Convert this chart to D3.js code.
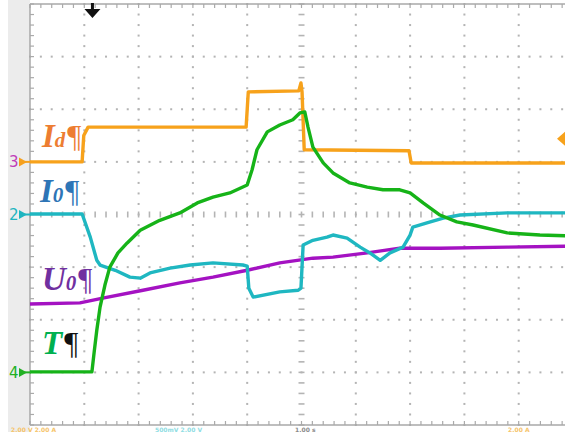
<!DOCTYPE html>
<html><head><meta charset="utf-8">
<script src="https://cdn.jsdelivr.net/npm/d3@7"></script>
<style>
html,body{margin:0;padding:0;background:#fff;overflow:hidden}
svg{display:block}
</style></head>
<body>
<svg id="c" width="565" height="432"></svg>
<script>
// Oscilloscope traces: [time (div), value (div from centre)]
const traceId = [[0,1.0],[0.96,1.0],[0.99,1.5],[1.07,1.66],[3.98,1.66],[4.02,2.33],[4.95,2.35],[4.99,2.5],[5.01,2.33],[5.05,1.23],[6.98,1.21],[7.02,0.98],[10,0.98]];
const traceI0 = [[0,0.01],[0.96,0.01],[1.11,-0.43],[1.23,-0.87],[1.29,-0.96],[1.57,-1.06],[1.84,-1.19],[2.03,-1.21],[2.21,-1.11],[2.58,-1.02],[2.95,-0.96],[3.37,-0.92],[3.92,-0.96],[4.0,-0.98],[4.03,-1.40],[4.11,-1.57],[4.60,-1.47],[4.94,-1.44],[4.99,-1.40],[5.03,-0.58],[5.21,-0.49],[5.47,-0.43],[5.58,-0.39],[5.84,-0.45],[6.08,-0.62],[6.26,-0.73],[6.45,-0.87],[6.63,-0.73],[6.87,-0.62],[7.0,-0.39],[7.05,-0.24],[7.31,-0.16],[7.61,-0.07],[7.92,-0.01],[8.79,0.03],[10,0.03]];
const traceU0 = [[0,-1.70],[0.92,-1.68],[1.34,-1.59],[2.08,-1.44],[2.76,-1.30],[3.37,-1.19],[4.0,-1.06],[4.60,-0.92],[5.21,-0.83],[5.58,-0.81],[6.21,-0.73],[6.81,-0.64],[7.55,-0.64],[8.79,-0.62],[10,-0.60]];
const traceT = [[0,-2.99],[1.14,-2.99],[1.18,-2.63],[1.23,-2.20],[1.29,-1.76],[1.38,-1.34],[1.47,-1.0],[1.62,-0.73],[1.79,-0.54],[2.03,-0.30],[2.39,-0.11],[2.76,0.03],[3.08,0.22],[3.37,0.33],[3.68,0.41],[4.0,0.56],[4.09,0.85],[4.18,1.23],[4.37,1.57],[4.60,1.70],[4.84,1.80],[4.97,1.93],[5.06,1.95],[5.12,1.66],[5.21,1.28],[5.40,0.98],[5.58,0.79],[5.89,0.60],[6.21,0.52],[6.50,0.47],[6.81,0.47],[7.0,0.41],[7.24,0.22],[7.55,-0.01],[7.86,-0.14],[8.16,-0.20],[8.79,-0.35],[9.39,-0.39],[10,-0.41]];
const channelMarks = [["3",1.0,"#c03cb8","#f5a01e"],["2",0.0,"#1fb5c0","#1fb5c0"],["4",-3.0,"#22b024","#22b024"]];
const bottomReadouts = [["2.00 V  2.00 A",11,"#f6c46a"],["500mV  2.00 V",155,"#8fdde3"],["1.00 s",295,"#8a8a8a"],["2.00 A",508,"#f6c46a"]];

const svg = d3.select("#c");
const x = d3.scaleLinear().domain([0,10]).range([30,573]);
const y = d3.scaleLinear().domain([-4,4]).range([425,4]);

// left gray strip
svg.append("rect").attr("x",8).attr("y",0).attr("width",22).attr("height",432).attr("fill","#ececec");
svg.append("rect").attr("x",30).attr("y",4).attr("width",545).attr("height",421).attr("fill","#fff");

const grid = svg.append("g");
const dotCol = "#b4b4b4";
const majorX = d3.range(1,10), majorY = d3.range(-3,4);
const minorX = d3.range(0,10.001,0.2), minorY = d3.range(-4,4.001,0.2);
majorY.filter(v=>v!==0).forEach(v=>{
  grid.selectAll(null).data(minorX).enter().append("rect")
    .attr("x",d=>x(d)-1).attr("y",y(v)-1).attr("width",2).attr("height",2).attr("fill",dotCol);
});
majorX.filter(t=>t!==5).forEach(t=>{
  grid.selectAll(null).data(minorY).enter().append("rect")
    .attr("x",x(t)-1).attr("y",d=>y(d)-1).attr("width",2).attr("height",2).attr("fill",dotCol);
});
grid.selectAll(null).data(minorX).enter().append("line")
  .attr("x1",d=>x(d)).attr("x2",d=>x(d)).attr("y1",y(0)-3).attr("y2",y(0)+3)
  .attr("stroke",dotCol).attr("stroke-width",1.6);
grid.selectAll(null).data(minorY).enter().append("line")
  .attr("x1",x(5)-3).attr("x2",x(5)+3).attr("y1",d=>y(d)).attr("y2",d=>y(d))
  .attr("stroke",dotCol).attr("stroke-width",1.6);
grid.selectAll(null).data(minorX).enter().append("line")
  .attr("x1",d=>x(d)).attr("x2",d=>x(d)).attr("y1",y(4)).attr("y2",y(4)+4)
  .attr("stroke","#aaa").attr("stroke-width",1.2);
grid.selectAll(null).data(minorX).enter().append("line")
  .attr("x1",d=>x(d)).attr("x2",d=>x(d)).attr("y1",y(-4)).attr("y2",y(-4)-4)
  .attr("stroke","#aaa").attr("stroke-width",1.2);
grid.selectAll(null).data(minorY).enter().append("line")
  .attr("x1",x(0)).attr("x2",x(0)+4).attr("y1",d=>y(d)).attr("y2",d=>y(d))
  .attr("stroke","#aaa").attr("stroke-width",1.2);
grid.append("line").attr("x1",x(0)).attr("x2",x(0)).attr("y1",y(4)).attr("y2",y(-4)).attr("stroke","#a8a8a8").attr("stroke-width",1.5);
grid.append("line").attr("x1",x(0)).attr("x2",565).attr("y1",y(4)).attr("y2",y(4)).attr("stroke","#a8a8a8").attr("stroke-width",1.5);
grid.append("line").attr("x1",x(0)).attr("x2",565).attr("y1",y(-4)).attr("y2",y(-4)).attr("stroke","#a8a8a8").attr("stroke-width",1.5);

// traces
const line = d3.line().x(d=>x(d[0])).y(d=>y(d[1]));
const traces = [[traceU0,"#a412c2"],[traceI0,"#1fb7c1"],[traceId,"#f7a21b"],[traceT,"#16b318"]];
svg.selectAll(null).data(traces).enter().append("path")
  .attr("d",d=>line(d[0])).attr("fill","none").attr("stroke",d=>d[1])
  .attr("stroke-width",3.4).attr("stroke-linejoin","round");

// channel markers on left
channelMarks.forEach(([lab,v,c1,c2])=>{
  svg.append("text").attr("x",9).attr("y",y(v)+5.5).attr("font-family","DejaVu Sans")
    .attr("font-size",15).attr("fill",c1).text(lab);
  svg.append("path").attr("d",`M${19},${y(v)-4.5}L${27},${y(v)}L${19},${y(v)+4.5}Z`).attr("fill",c2);
  svg.append("line").attr("x1",22).attr("x2",31).attr("y1",y(v)).attr("y2",y(v)).attr("stroke",c2).attr("stroke-width",2);
});

// trigger arrow top
const tx = x(1.15);
svg.append("path").attr("d",`M${tx-1.5},3 L${tx+1.5},3 L${tx+1.5},9 L${tx+8},9 L${tx},18 L${tx-8},9 L${tx-1.5},9Z`).attr("fill","#111");
// right trigger level marker
svg.append("path").attr("d",`M557,${y(1.44)} L565,${y(1.44)-7} L565,${y(1.44)+7}Z`).attr("fill","#f7a21b");

// bottom readouts (small strip along the bottom edge)
svg.selectAll(null).data(bottomReadouts).enter().append("text")
  .attr("x",d=>d[1]).attr("y",431.5).attr("font-family","DejaVu Sans").attr("font-weight","bold")
  .attr("font-size",6).attr("fill",d=>d[2]).text(d=>d[0]);

// labels
function label(px,py,main,sub,color,pilColor){
  const t = svg.append("text").attr("x",px).attr("y",py)
    .attr("font-family","Liberation Serif").attr("fill",color);
  t.append("tspan").attr("font-size",33).attr("font-weight","bold").attr("font-style","italic").text(main);
  if(sub) t.append("tspan").attr("font-size",21).attr("font-weight","bold").attr("font-style","italic").text(sub);
  t.append("tspan").attr("font-size",31).attr("dx",2).attr("fill",pilColor).text("¶");
}
label(42,147,"I","d","#ed7d31","#ed7d31");
label(40,202,"I","0","#2e75b6","#2e75b6");
label(42,290,"U","0","#7030a0","#7030a0");
label(42,354,"T",null,"#00b050","#111");
</script>
</body></html>
